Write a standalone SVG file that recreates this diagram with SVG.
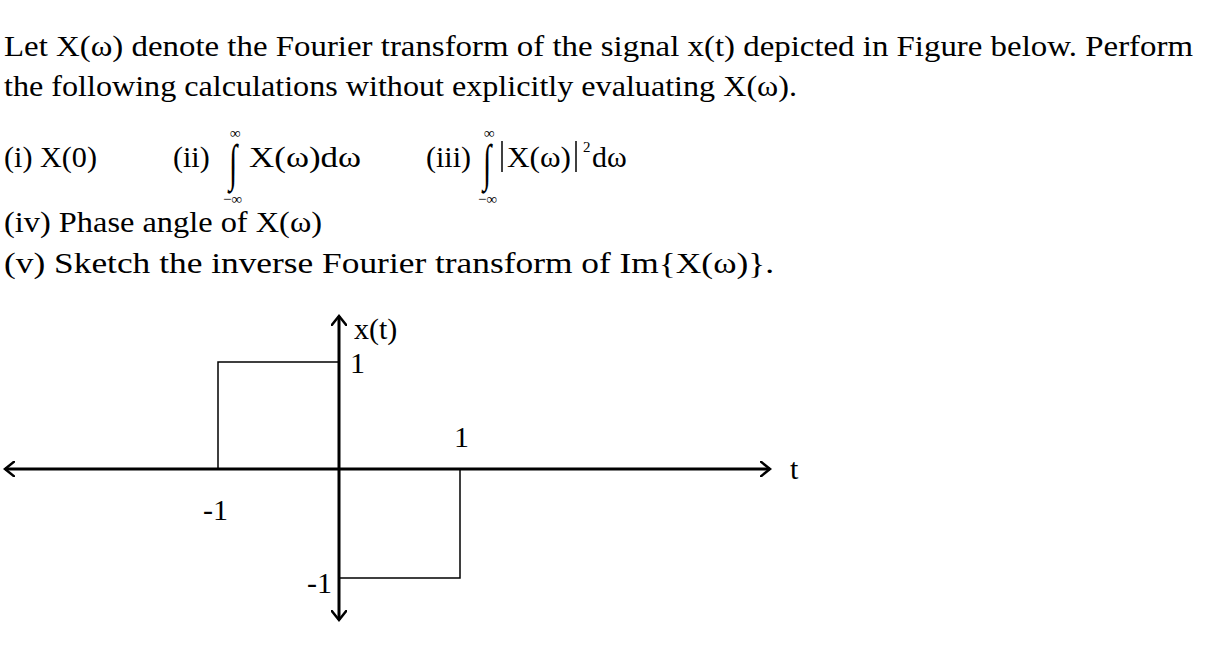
<svg xmlns="http://www.w3.org/2000/svg" width="1206" height="651" viewBox="0 0 1206 651">
<style>
text{font-family:"Liberation Serif","Times New Roman",serif;fill:#000;font-size:30px}
.s{font-size:15px}
.i{font-size:30px}
.ln{stroke:#000;fill:none}
</style>
<defs><marker id="a" markerWidth="12" markerHeight="16" refX="10" refY="8" orient="auto-start-reverse" markerUnits="userSpaceOnUse"><path d="M0,0 L10,8 L0,16" fill="none" stroke="#000" stroke-width="2.5"/></marker></defs>
<rect width="1206" height="651" fill="#fff"/>
<text x="4" y="56" textLength="1189" lengthAdjust="spacingAndGlyphs">Let X(ω) denote the Fourier transform of the signal x(t) depicted in Figure below. Perform</text>
<text x="4" y="96" textLength="793" lengthAdjust="spacingAndGlyphs">the following calculations without explicitly evaluating X(ω).</text>
<text x="4" y="167" textLength="93" lengthAdjust="spacingAndGlyphs">(i) X(0)</text>
<text x="173" y="167">(ii)</text>
<text class="s" x="230" y="138">∞</text>
<text class="i" transform="translate(229,180) scale(1,1.7)">∫</text>
<text x="249" y="167" textLength="112" lengthAdjust="spacingAndGlyphs">X(ω)dω</text>
<text class="s" x="223" y="204">−∞</text>
<text x="426" y="167">(iii)</text>
<text class="s" x="484" y="138">∞</text>
<text class="i" transform="translate(483,180) scale(1,1.7)">∫</text>
<line class="ln" x1="502" y1="141" x2="502" y2="172" stroke-width="1.5"/>
<text x="507" y="167" textLength="64" lengthAdjust="spacingAndGlyphs">X(ω)</text>
<line class="ln" x1="576" y1="141" x2="576" y2="172" stroke-width="1.5"/>
<text class="s" x="583" y="152">2</text>
<text x="592" y="167">dω</text>
<text class="s" x="478" y="204">−∞</text>
<text x="4" y="232" textLength="318" lengthAdjust="spacingAndGlyphs">(iv)  Phase angle of X(ω)</text>
<text x="4" y="273" textLength="770" lengthAdjust="spacingAndGlyphs">(v) Sketch the  inverse Fourier transform of Im{X(ω)}.</text>
<g id="connectors">
<line class="ln" x1="5" y1="469" x2="770" y2="469" stroke-width="3" marker-start="url(#a)" marker-end="url(#a)"/>
<line class="ln" x1="339" y1="316" x2="339" y2="620" stroke-width="3" marker-start="url(#a)" marker-end="url(#a)"/>
<polyline class="ln" stroke-width="1.5" points="218,469 218,362 339,362"/>
<polyline class="ln" stroke-width="1.5" points="339,578 460,578 460,469"/>
</g>
<text x="354" y="339">x(t)</text>
<text x="350" y="373">1</text>
<text x="454" y="447">1</text>
<text x="203" y="520">-1</text>
<text x="307" y="593">-1</text>
<text x="790" y="479">t</text>
</svg>
